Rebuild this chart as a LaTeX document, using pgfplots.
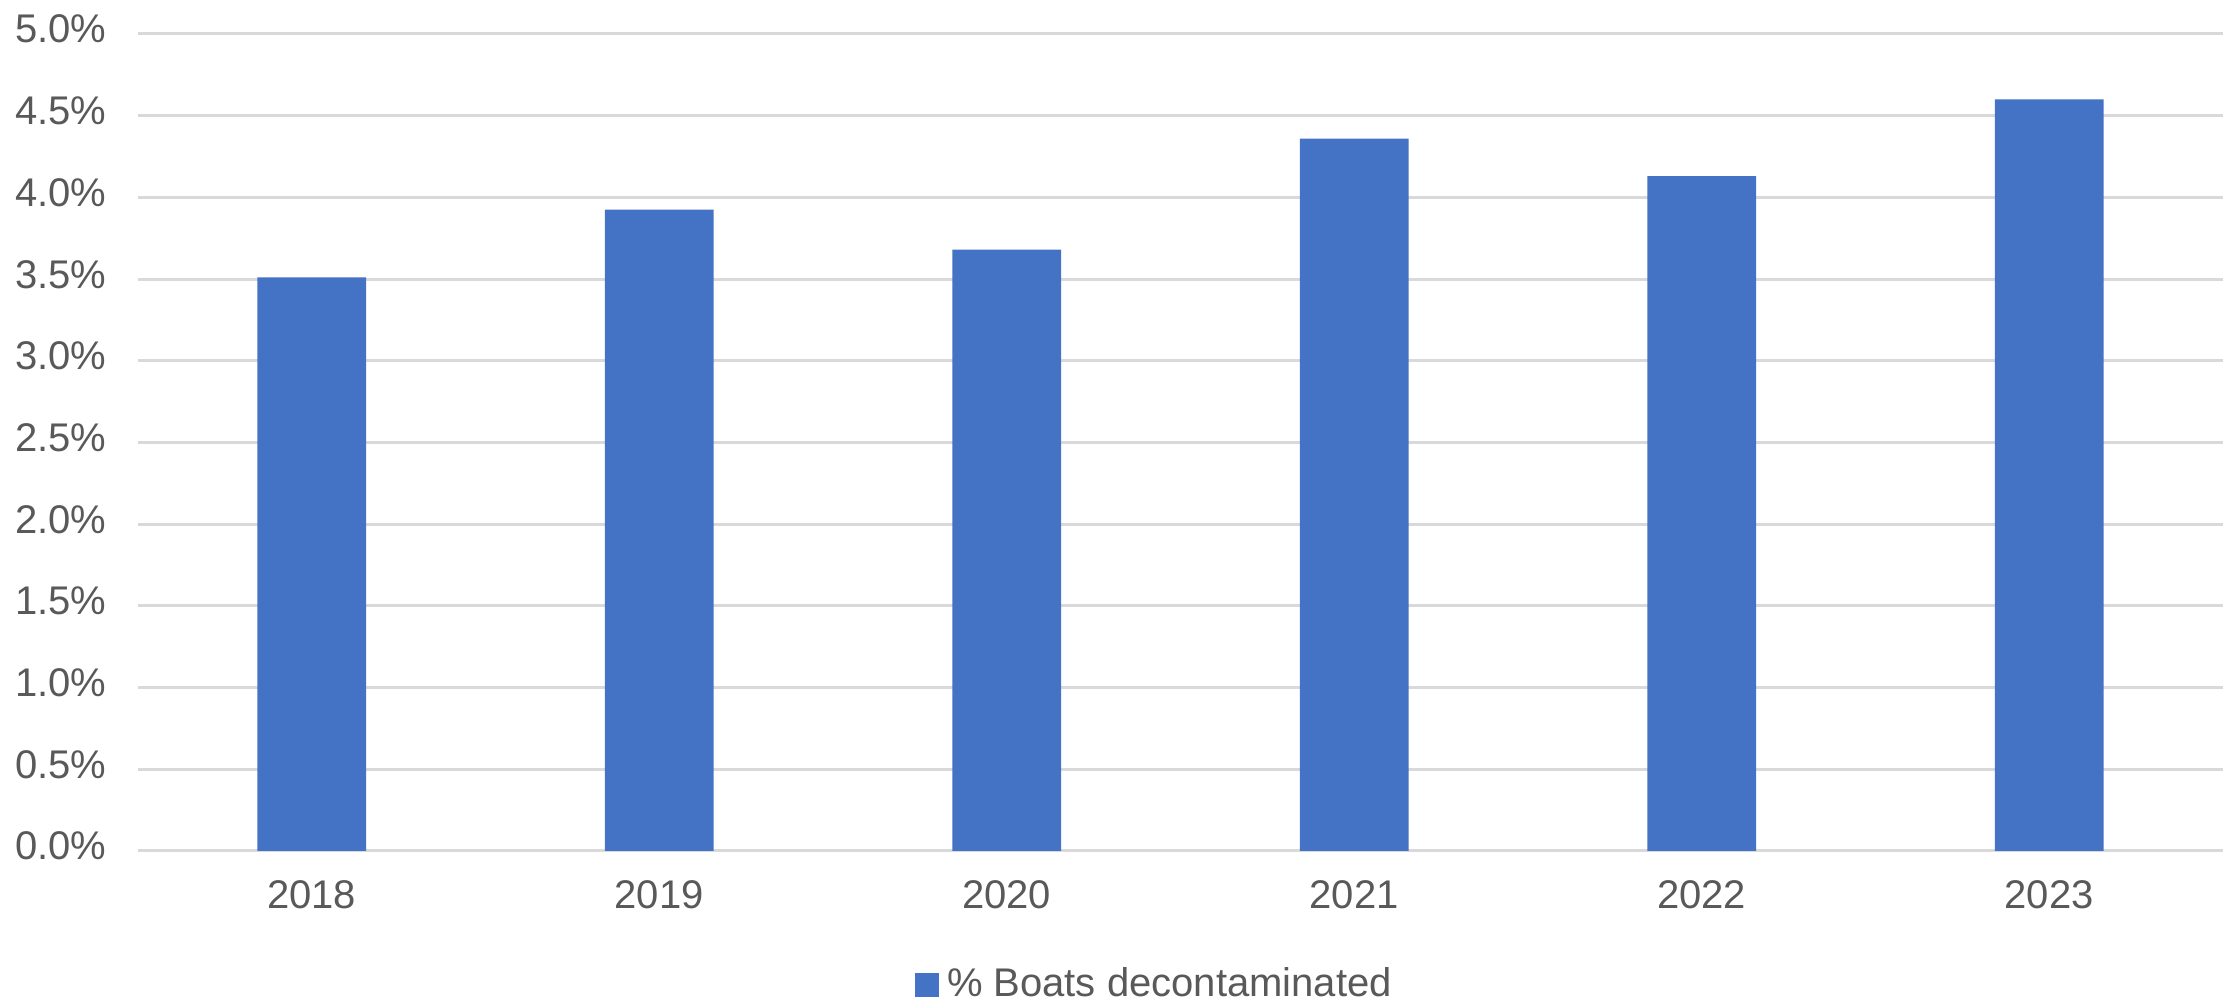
\documentclass[border=0pt]{standalone}
\usepackage{pgfplots}
\pgfplotsset{compat=1.18}
\usepackage{fontspec}
\setmainfont{Liberation Sans}
\definecolor{barblue}{HTML}{4472C4}
\definecolor{gridgray}{HTML}{D9D9D9}
\definecolor{txtgray}{HTML}{595959}
\begin{document}
\begin{tikzpicture}
\begin{axis}[
  at={(34.5pt,37.75pt)}, anchor=south west,
  scale only axis, width=521.25pt, height=204.25pt,
  xmin=-0.5, xmax=5.5, ymin=0, ymax=5,
  axis line style={draw=none},
  ytick={0,0.5,...,5},
  yticklabels={0.0\%,0.5\%,1.0\%,1.5\%,2.0\%,2.5\%,3.0\%,3.5\%,4.0\%,4.5\%,5.0\%},
  xtick={0,1,2,3,4,5},
  xticklabels={2018,2019,2020,2021,2022,2023},
  major tick length=0pt,
  ymajorgrids, grid style={gridgray, line width=0.75pt},
  tick label style={font=\fontsize{10}{12}\selectfont, text=txtgray},
  yticklabel style={xshift=-4.4pt, yshift=1.2pt},
  xticklabel style={yshift=-3.9pt},
  legend style={at={(axis description cs:0.3727,0)}, anchor=west, yshift=-33.4pt,
    draw=none, fill=none, inner sep=0pt, outer sep=0pt,
    font=\fontsize{10}{12}\selectfont, text=txtgray,
    /tikz/every even column/.append style={column sep=0pt}},
  legend cell align=left,
  legend image code/.code={\fill[barblue] (0pt,-3pt) rectangle (6pt,3pt);},
  clip=false,
]
\addplot[ybar, bar width=0.313, fill=barblue, draw=none] coordinates {
  (0,3.51) (1,3.925) (2,3.68) (3,4.36) (4,4.13) (5,4.60)
};
\addlegendentry{\% Boats decontaminated}
\end{axis}
\pgfresetboundingbox
\path[use as bounding box] (0,0) rectangle (557.75pt,250.5pt);
\end{tikzpicture}
\end{document}
